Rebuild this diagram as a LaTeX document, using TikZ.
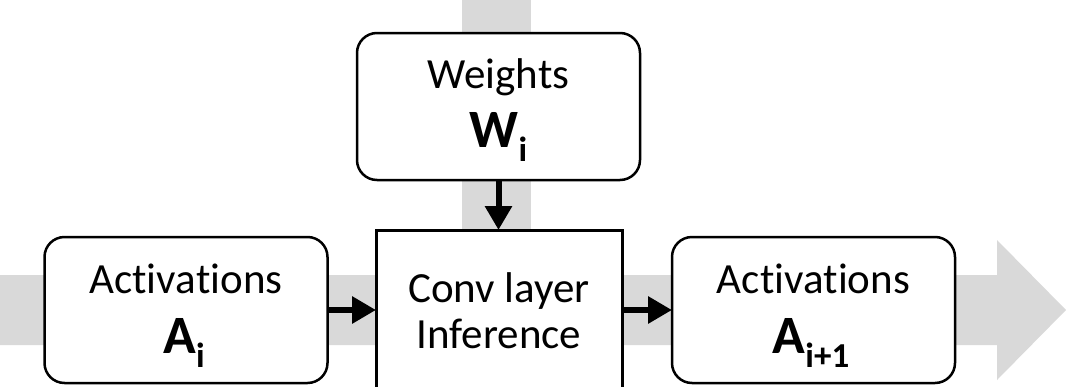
\documentclass[tikz,border=0pt]{standalone}
\usepackage{fontspec}
\setmainfont[RawFeature={-liga;-clig;-calt;-dlig}]{Carlito}
\usetikzlibrary{arrows.meta}
\definecolor{bandgray}{HTML}{D9D9D9}
\newcommand{\lbltext}{\fontsize{43}{50}\selectfont}
\newcommand{\tensorsym}[2]{{\fontsize{54}{62}\selectfont\bfseries #1\raisebox{-14pt}{\fontsize{35}{40}\selectfont #2}}}
\tikzset{
  rbox/.style={draw, line width=2.5pt, rounded corners=20pt, fill=white,
    inner sep=0pt, outer sep=0pt, minimum width=283pt, minimum height=146pt},
  sqbox/.style={draw, line width=3pt, fill=white, inner sep=0pt, outer sep=0pt,
    minimum width=246pt, minimum height=190pt},
  flow/.style={line width=6pt, -{Triangle[length=24pt,width=26pt]}},
  lbl/.style={anchor=base, inner sep=0pt, font=\lbltext},
  symlbl/.style={anchor=base, inner sep=0pt},
}
\begin{document}
\begin{tikzpicture}[x=1pt,y=-1pt]
  \useasboundingbox (0,0) rectangle (1066,386);
  \clip (0,0) rectangle (1066,386);

  % grey data-flow bands
  \fill[bandgray] (462,0) rectangle (531,232);
  \fill[bandgray] (0,275) -- (997,275) -- (997,240) -- (1066,310)
                  -- (997,380) -- (997,345) -- (0,345) -- cycle;

  % boxes
  \node[rbox] (ain)  at (186,310) {};
  \node[rbox] (aout) at (813.5,310) {};
  \node[rbox, minimum height=147pt] (wts) at (498.5,106.5) {};
  \node[sqbox] (conv) at (499,325) {};

  % labels
  \node[lbl] (ain-name) at (186,293) {Act\kern0pt iva\kern0pt t\kern0pt ions};
  \node[symlbl] (ain-sym) at (184,353) {\tensorsym{A}{i}};
  \node[lbl] (aout-name) at (813.5,293) {Act\kern0pt iva\kern0pt t\kern0pt ions};
  \node[symlbl] (aout-sym) at (811,353) {\tensorsym{A}{i+1}};
  \node[lbl] (wts-name) at (498.5,88) {Weights};
  \node[symlbl] (wts-sym) at (498.5,147) {\tensorsym{W}{i}};
  \node[lbl] (conv-l1) at (499,302) {Conv layer};
  \node[lbl] (conv-l2) at (499,348) {Inference};

  % arrows
  \draw[flow] (ain.east) -- (ain.east -| conv.west);
  \draw[flow] (aout.west -| conv.east) -- (aout.west);
  \draw[flow] (wts.south) -- (wts.south |- conv.north);
\end{tikzpicture}
\end{document}
